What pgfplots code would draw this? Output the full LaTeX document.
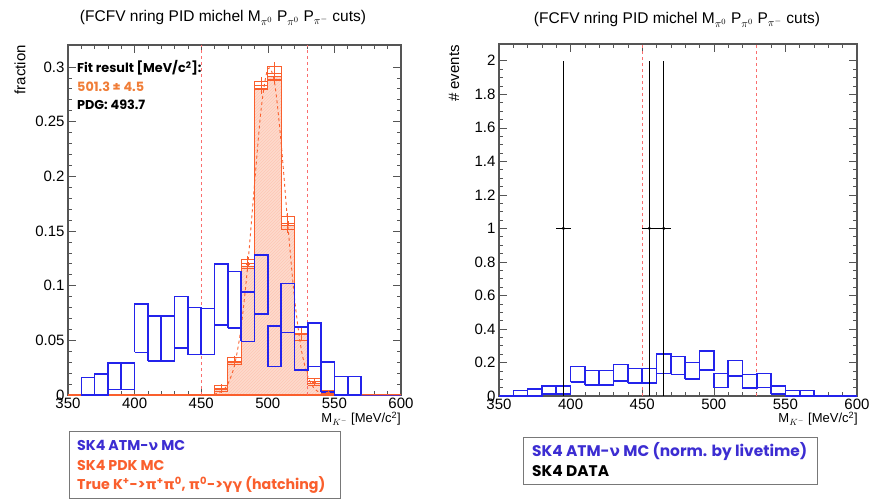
\documentclass[border=0pt]{standalone}
\usepackage{pgfplots}
\pgfplotsset{compat=1.18}
\usepackage{fontspec}
\setmainfont{Liberation Sans}
\newfontfamily\gothic{Poppins}
\newfontfamily\grk{DejaVu Sans}
\usetikzlibrary{patterns}

\definecolor{atm}{RGB}{35,35,235}
\definecolor{pdk}{RGB}{250,95,45}
\definecolor{pdkfill}{RGB}{253,218,204}
\definecolor{cut}{RGB}{250,110,110}
\definecolor{frame}{RGB}{85,85,85}
\definecolor{fittxt}{RGB}{240,125,55}
\definecolor{legatm}{RGB}{60,45,210}
\definecolor{legbox}{RGB}{120,120,120}

\pgfplotsset{
  rootstyle/.style={
    scale only axis, xmin=350, xmax=600, ymin=0,
    xtick={350,400,...,600}, minor x tick num=4,
    tick align=inside, major tick length=8pt, minor tick length=4pt,
    every tick/.style={frame, line width=0.6pt},
    axis line style={frame, line width=1.3pt},
    tick label style={font=\fontsize{15}{15}\selectfont,
      /pgf/number format/assume math mode=true},
    xticklabel style={yshift=1pt},
    scaled y ticks=false,
    yticklabel style={/pgf/number format/fixed, /pgf/number format/precision=2},
    unbounded coords=jump,
  }
}

\begin{document}
\begin{tikzpicture}[x=1pt,y=1pt]
\useasboundingbox (0,0) rectangle (874,499);

% ---------------- left: fraction ----------------
\begin{axis}[rootstyle, at={(68pt,104pt)}, anchor=south west,
  width=333pt, height=350pt, ymax=0.32,
  ytick={0,0.05,0.1,0.15,0.2,0.25,0.3}, minor y tick num=4]

  % true K+ -> pi+ pi0 component (hatched)
  \addplot[const plot, draw=pdk, line width=0.8pt, fill=pdkfill,
    postaction={pattern=north east lines, pattern color=pdk!35}]
    coordinates {(460,0.005)(470,0.030)(480,0.118)(490,0.280)(500,0.291)
                 (510,0.155)(520,0.055)(530,0.011)(540,0.002)(550,0.002)}
    \closedcycle;

  \addplot[pdk, line width=1.2pt] coordinates {(350,0)(600,0)};

  % PDK MC boxes
  \addplot[pdk, line width=1.1pt] coordinates {
    (460,0.003)(460,0.009)(470,0.009)(470,0.003)(460,0.003)(470,nan)
    (470,0.028)(470,0.034)(480,0.034)(480,0.028)(470,0.028)(480,nan)
    (480,0.116)(480,0.124)(490,0.124)(490,0.116)(480,0.116)(490,nan)
    (490,0.279)(490,0.287)(500,0.287)(500,0.279)(490,0.279)(500,nan)
    (500,0.288)(500,0.300)(510,0.300)(510,0.288)(500,0.288)(510,nan)
    (510,0.151)(510,0.163)(520,0.163)(520,0.151)(510,0.151)(520,nan)
    (520,0.050)(520,0.062)(530,0.062)(530,0.050)(520,0.050)(530,nan)
    (530,0.009)(530,0.015)(540,0.015)(540,0.009)(530,0.009)(540,nan)
    (540,0.001)(540,0.004)(550,0.004)(550,0.001)(540,0.001)(550,nan)
  };

  % PDK MC points
  \addplot[pdk, only marks, mark=+, mark size=2pt,
    error bars/.cd, x dir=both, x explicit, y dir=both, y explicit,
    error mark=none, error bar style={pdk, line width=0.8pt}]
    coordinates {
      (465,0.006) +- (5,0.004)
      (475,0.031) +- (5,0.005)
      (485,0.120) +- (5,0.007)
      (495,0.283) +- (5,0.008)
      (505,0.294) +- (5,0.010)
      (515,0.157) +- (5,0.009)
      (525,0.056) +- (5,0.007)
      (535,0.012) +- (5,0.004)
      (545,0.0025) +- (5,0.002)
    };

  % fit
  \addplot[pdk, dashed, line width=0.9pt, smooth] coordinates {
    (455,0.0002)(460,0.0008)(465,0.0031)(470,0.0100)(475,0.0272)
    (480,0.0621)(485,0.1193)(490,0.1925)(495,0.2614)(500,0.2982)
    (505,0.2861)(510,0.2307)(515,0.1564)(520,0.0891)(525,0.0427)
    (530,0.0172)(535,0.0058)(540,0.0017)(545,0.0004)};

  % cut lines
  \addplot[cut, dashed, line width=0.8pt] coordinates {(450,0)(450,0.32)};
  \addplot[cut, dashed, line width=0.8pt] coordinates {(530,0)(530,0.32)};

  % ATM MC boxes
  \addplot[atm, line width=1.6pt] coordinates {
    (360,0)(360,0.016)(370,0.016)(370,0)(360,0)(370,nan)
    (370,0)(370,0.019)(380,0.019)(380,0)(370,0)(380,nan)
    (380,0.005)(380,0.029)(390,0.029)(390,0.005)(380,0.005)(390,nan)
    (390,0.005)(390,0.029)(400,0.029)(400,0.005)(390,0.005)(400,nan)
    (400,0.039)(400,0.083)(410,0.083)(410,0.039)(400,0.039)(410,nan)
    (410,0.031)(410,0.072)(420,0.072)(420,0.031)(410,0.031)(420,nan)
    (420,0.031)(420,0.072)(430,0.072)(430,0.031)(420,0.031)(430,nan)
    (430,0.043)(430,0.090)(440,0.090)(440,0.043)(430,0.043)(440,nan)
    (440,0.037)(440,0.080)(450,0.080)(450,0.037)(440,0.037)(450,nan)
    (450,0.037)(450,0.079)(460,0.079)(460,0.037)(450,0.037)(460,nan)
    (460,0.064)(460,0.120)(470,0.120)(470,0.064)(460,0.064)(470,nan)
    (470,0.061)(470,0.113)(480,0.113)(480,0.061)(470,0.061)(480,nan)
    (480,0.049)(480,0.094)(490,0.094)(490,0.049)(480,0.049)(490,nan)
    (490,0.074)(490,0.128)(500,0.128)(500,0.074)(490,0.074)(500,nan)
    (500,0.026)(500,0.063)(510,0.063)(510,0.026)(500,0.026)(510,nan)
    (510,0.057)(510,0.102)(520,0.102)(520,0.057)(510,0.057)(520,nan)
    (520,0.023)(520,0.062)(530,0.062)(530,0.023)(520,0.023)(530,nan)
    (530,0.026)(530,0.066)(540,0.066)(540,0.026)(530,0.026)(540,nan)
    (540,0.003)(540,0.030)(550,0.030)(550,0.003)(540,0.003)(550,nan)
    (550,0)(550,0.017)(560,0.017)(560,0)(550,0)(560,nan)
    (560,0)(560,0.017)(570,0.017)(570,0)(560,0)(570,nan)
  };
  \addplot[atm!70!pdk, line width=0.8pt] coordinates {(570,0)(600,0)};
\end{axis}

% ---------------- right: # events ----------------
\begin{axis}[rootstyle, at={(499pt,103pt)}, anchor=south west,
  width=358pt, height=352pt, ymax=2.1,
  ytick={0,0.2,0.4,0.6,0.8,1,1.2,1.4,1.6,1.8,2}, minor y tick num=3]

  \addplot[cut, dashed, line width=0.8pt] coordinates {(450,0)(450,2.1)};
  \addplot[cut, dashed, line width=0.8pt] coordinates {(530,0)(530,2.1)};

  \addplot[atm, line width=1.6pt] coordinates {
    (350,0)(360,0)(370,nan)
    (360,0)(360,0.032)(370,0.032)(370,0)(360,0)(370,nan)
    (370,0)(370,0.040)(380,0.040)(380,0)(370,0)(380,nan)
    (380,0.012)(380,0.060)(390,0.060)(390,0.012)(380,0.012)(390,nan)
    (390,0.012)(390,0.060)(400,0.060)(400,0.012)(390,0.012)(400,nan)
    (400,0.082)(400,0.175)(410,0.175)(410,0.082)(400,0.082)(410,nan)
    (410,0.064)(410,0.151)(420,0.151)(420,0.064)(410,0.064)(420,nan)
    (420,0.064)(420,0.151)(430,0.151)(430,0.064)(420,0.064)(430,nan)
    (430,0.091)(430,0.189)(440,0.189)(440,0.091)(430,0.091)(440,nan)
    (440,0.076)(440,0.165)(450,0.165)(450,0.076)(440,0.076)(450,nan)
    (450,0.076)(450,0.165)(460,0.165)(460,0.076)(450,0.076)(460,nan)
    (460,0.135)(460,0.249)(470,0.249)(470,0.135)(460,0.135)(470,nan)
    (470,0.129)(470,0.235)(480,0.235)(480,0.129)(470,0.129)(480,nan)
    (480,0.101)(480,0.199)(490,0.199)(490,0.101)(480,0.101)(490,nan)
    (490,0.155)(490,0.268)(500,0.268)(500,0.155)(490,0.155)(500,nan)
    (500,0.050)(500,0.135)(510,0.135)(510,0.050)(500,0.050)(510,nan)
    (510,0.119)(510,0.211)(520,0.211)(520,0.119)(510,0.119)(520,nan)
    (520,0.046)(520,0.129)(530,0.129)(530,0.046)(520,0.046)(530,nan)
    (530,0.050)(530,0.135)(540,0.135)(540,0.050)(530,0.050)(540,nan)
    (540,0.012)(540,0.060)(550,0.060)(550,0.012)(540,0.012)(550,nan)
    (550,0)(550,0.032)(560,0.032)(560,0)(550,0)(560,nan)
    (560,0)(560,0.032)(570,0.032)(570,0)(560,0)(570,nan)
    (570,0)(600,0)
  };

  % data
  \addplot[black, only marks, mark=*, mark size=1.4pt,
    error bars/.cd, x dir=both, x explicit, y dir=both, y explicit,
    error mark=none, error bar style={black, line width=1pt}]
    coordinates {(395,1) +- (5,1) (455,1) +- (5,1) (465,1) +- (5,1)};
\end{axis}

% ---------------- texts ----------------
\node[font=\fontsize{15.5}{15.5}\selectfont] at (223,481)
  {(FCFV nring PID michel M$_{\pi^{0}}$ P$_{\pi^{0}}$ P$_{\pi^{-}}$ cuts)};
\node[font=\fontsize{15.5}{15.5}\selectfont] at (677,479)
  {(FCFV nring PID michel M$_{\pi^{0}}$ P$_{\pi^{0}}$ P$_{\pi^{-}}$ cuts)};

\node[rotate=90, anchor=east, inner sep=0pt, font=\fontsize{15}{15}\selectfont]
  at (20,454) {fraction};
\node[rotate=90, anchor=east, inner sep=0pt, font=\fontsize{15}{15}\selectfont]
  at (454,454) {\# events};

\node[anchor=north east, inner sep=0pt, font=\fontsize{13}{13}\selectfont]
  at (401,87) {M$_{K^{-}}$ [MeV/c\textsuperscript{2}]};
\node[anchor=north east, inner sep=0pt, font=\fontsize{13}{13}\selectfont]
  at (858,87) {M$_{K^{-}}$ [MeV/c\textsuperscript{2}]};

\begin{scope}[every node/.style={anchor=west, inner sep=0pt,
    font=\gothic\bfseries\fontsize{12.8}{12.8}\selectfont}]
  \node at (77,431) {Fit result [MeV/c\textsuperscript{2}]:};
  \node[text=fittxt] at (77,412) {501.3 ± 4.5};
  \node at (77,394) {PDG: 493.7};
\end{scope}

% legend boxes
\draw[legbox, line width=0.8pt, fill=white] (69,1) rectangle (340,68);
\draw[legbox, line width=0.8pt, fill=white] (523,15) rectangle (817,62);
\begin{scope}[every node/.style={anchor=west, inner sep=0pt,
    font=\gothic\bfseries\fontsize{14.2}{14.2}\selectfont}]
  \node[text=legatm] at (77,54) {SK4 ATM-{\grk ν} MC};
  \node[text=pdk] at (77,34) {SK4 PDK MC};
  \node[text=pdk] at (77,14) {True K\textsuperscript{+}->{\grk π}\textsuperscript{+}{\grk π}\textsuperscript{0}, {\grk π}\textsuperscript{0}->{\grk γγ} (hatching)};
\end{scope}
\begin{scope}[every node/.style={anchor=west, inner sep=0pt,
    font=\gothic\bfseries\fontsize{15.4}{15.4}\selectfont}]
  \node[text=legatm] at (532,47) {SK4 ATM-{\grk ν} MC (norm. by livetime)};
  \node[text=black] at (532,28) {SK4 DATA};
\end{scope}
\end{tikzpicture}
\end{document}
